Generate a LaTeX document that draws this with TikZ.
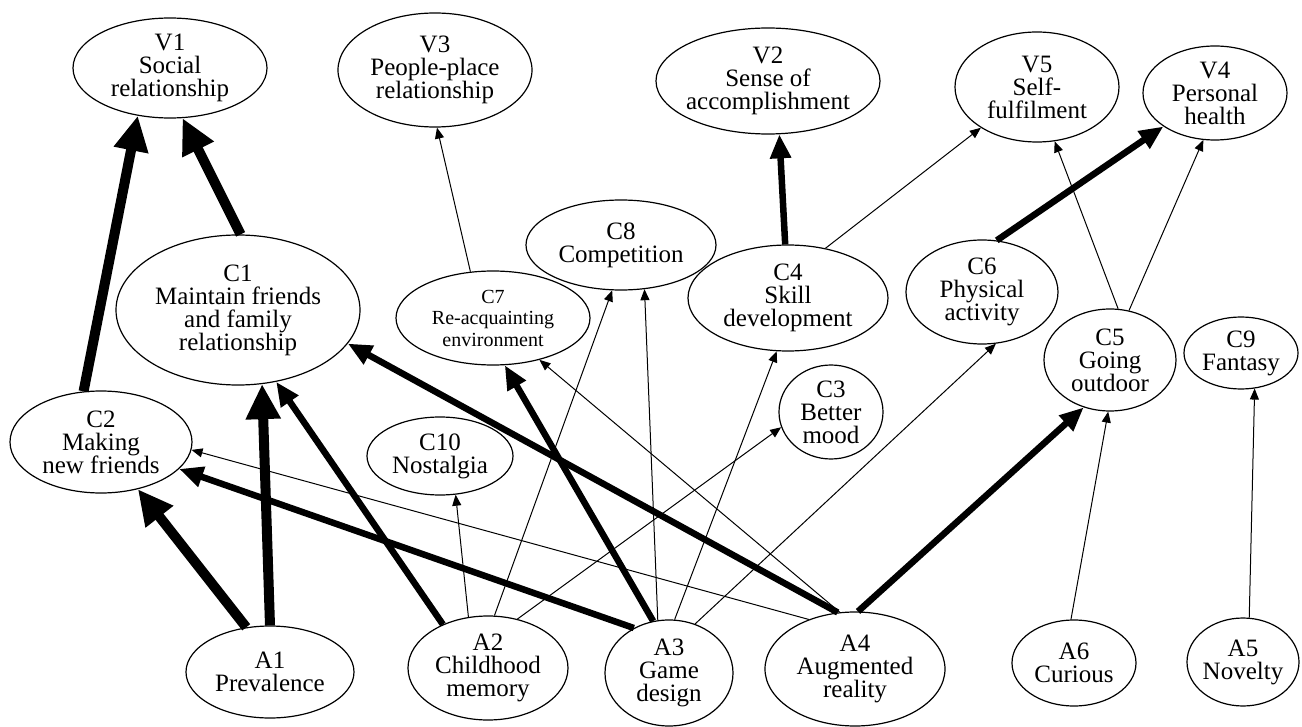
\documentclass[tikz,border=0pt]{standalone}
\usepackage{fontspec}
\setmainfont{Liberation Serif}
\usetikzlibrary{shapes.geometric,arrows.meta}
\begin{document}
\begin{tikzpicture}[x=1pt,y=-1pt,
  ell/.style={draw, ellipse, line width=1.2pt, inner sep=0pt},
  lbl/.style={align=center, inner sep=0pt, font=\fontsize{25}{23}\selectfont},
  lblsmall/.style={align=center, inner sep=0pt, font=\fontsize{20}{21.5}\selectfont},
  ethin/.style={line width=1pt, -{Triangle[length=11pt,width=9pt]}},
  ethick/.style={line width=6.5pt, -{Triangle[length=24pt,width=20pt]}},
  evthick/.style={line width=10pt, -{Triangle[length=35pt,width=33pt]}}]
\useasboundingbox (0,0) rectangle (1302,727);
% values
\node[ell, minimum width=194pt, minimum height=100pt] (v1) at (170,68) {};
\node[lbl] (v1t) at (v1) {V1\\Social\\relationship};
\node[ell, minimum width=194pt, minimum height=114pt] (v3) at (435,70) {};
\node[lbl] (v3t) at (v3) {V3\\People-place\\relationship};
\node[ell, minimum width=224pt, minimum height=106pt] (v2) at (768,81) {};
\node[lbl] (v2t) at (v2) {V2\\Sense of\\accomplishment};
\node[ell, minimum width=164pt, minimum height=110pt] (v5) at (1037,87) {};
\node[lbl] (v5t) at (v5) {V5\\Self-\\fulfilment};
\node[ell, minimum width=144pt, minimum height=94pt] (v4) at (1215,93) {};
\node[lbl] (v4t) at (v4) {V4\\Personal\\health};
% consequences
\node[ell, minimum width=244pt, minimum height=150pt] (c1) at (238,310) {};
\node[lbl] (c1t) at (c1) {C1\\Maintain friends\\and family\\relationship};
\node[ell, minimum width=182pt, minimum height=102pt] (c2) at (101,442) {};
\node[lbl] (c2t) at (c2) {C2\\Making\\new friends};
\node[ell, minimum width=194pt, minimum height=94pt] (c7) at (493,318) {};
\node[lblsmall] (c7t) at (c7) {C7\\Re-acquainting\\environment};
\node[ell, minimum width=190pt, minimum height=90pt] (c8) at (621,245) {};
\node[lbl] (c8t) at (c8) {C8\\Competition};
\node[ell, minimum width=200pt, minimum height=106pt] (c4) at (788,298) {};
\node[lbl] (c4t) at (c4) {C4\\Skill\\development};
\node[ell, minimum width=104pt, minimum height=94pt] (c3) at (831,412) {};
\node[lbl] (c3t) at (c3) {C3\\Better\\mood};
\node[ell, minimum width=146pt, minimum height=78pt] (c10) at (440,456) {};
\node[lbl] (c10t) at (c10) {C10\\Nostalgia};
\node[ell, minimum width=152pt, minimum height=104pt] (c6) at (982,292) {};
\node[lbl] (c6t) at (c6) {C6\\Physical\\activity};
\node[ell, minimum width=132pt, minimum height=102pt] (c5) at (1110,360) {};
\node[lbl] (c5t) at (c5) {C5\\Going\\outdoor};
\node[ell, minimum width=114pt, minimum height=72pt] (c9) at (1241,353) {};
\node[lbl] (c9t) at (c9) {C9\\Fantasy};
% attributes
\node[ell, minimum width=168pt, minimum height=92pt] (a1) at (270,672) {};
\node[lbl] (a1t) at (a1) {A1\\Prevalence};
\node[ell, minimum width=160pt, minimum height=104pt] (a2) at (488,668) {};
\node[lbl] (a2t) at (a2) {A2\\Childhood\\memory};
\node[ell, minimum width=128pt, minimum height=106pt] (a3) at (669,673) {};
\node[lbl] (a3t) at (a3) {A3\\Game\\design};
\node[ell, minimum width=180pt, minimum height=114pt] (a4) at (855,669) {};
\node[lbl] (a4t) at (a4) {A4\\Augmented\\reality};
\node[ell, minimum width=124pt, minimum height=86pt] (a6) at (1074,663) {};
\node[lbl] (a6t) at (a6) {A6\\Curious};
\node[ell, minimum width=112pt, minimum height=88pt] (a5) at (1243,662) {};
\node[lbl] (a5t) at (a5) {A5\\Novelty};
% links
\draw[evthick] (c2.109) -- (v1.236);
\draw[evthick] (c1.88) -- (v1.284);
\draw[ethin] (c7.116) -- (v3.272);
\draw[ethick] (c4.93) -- (v2.282);
\draw[ethin] (c4.53) -- (v5.216);
\draw[ethick] (c6.74) -- (v4.213);
\draw[ethin] (c5.81) -- (v5.288);
\draw[ethin] (c5.69) -- (v4.256);
\draw[evthick] (a1.118) -- (c2.308);
\draw[evthick] (a1.90) -- (c1.288);
\draw[ethick] (a2.136) -- (c1.298);
\draw[ethin] (a2.111) -- (c10.292);
\draw[ethin] (a2.83) -- (c8.259);
\draw[ethin] (a2.59) -- (c3.197);
\draw[ethick] (a3.128) -- (c2.341);
\draw[ethick] (a3.107) -- (c7.284);
\draw[ethin] (a3.102) -- (c8.298);
\draw[ethin] (a3.84) -- (c4.258);
\draw[ethin] (a3.62) -- (c6.285);
\draw[ethick] (a4.107) -- (c1.343);
\draw[ethin] (a4.105) -- (c7.318);
\draw[ethin] (a4.133) -- (c2.355);
\draw[ethick] (a4.87) -- (c5.241);
\draw[ethin] (a6.94) -- (c5.268);
\draw[ethin] (a5.82) -- (c9.291);
\end{tikzpicture}
\end{document}
